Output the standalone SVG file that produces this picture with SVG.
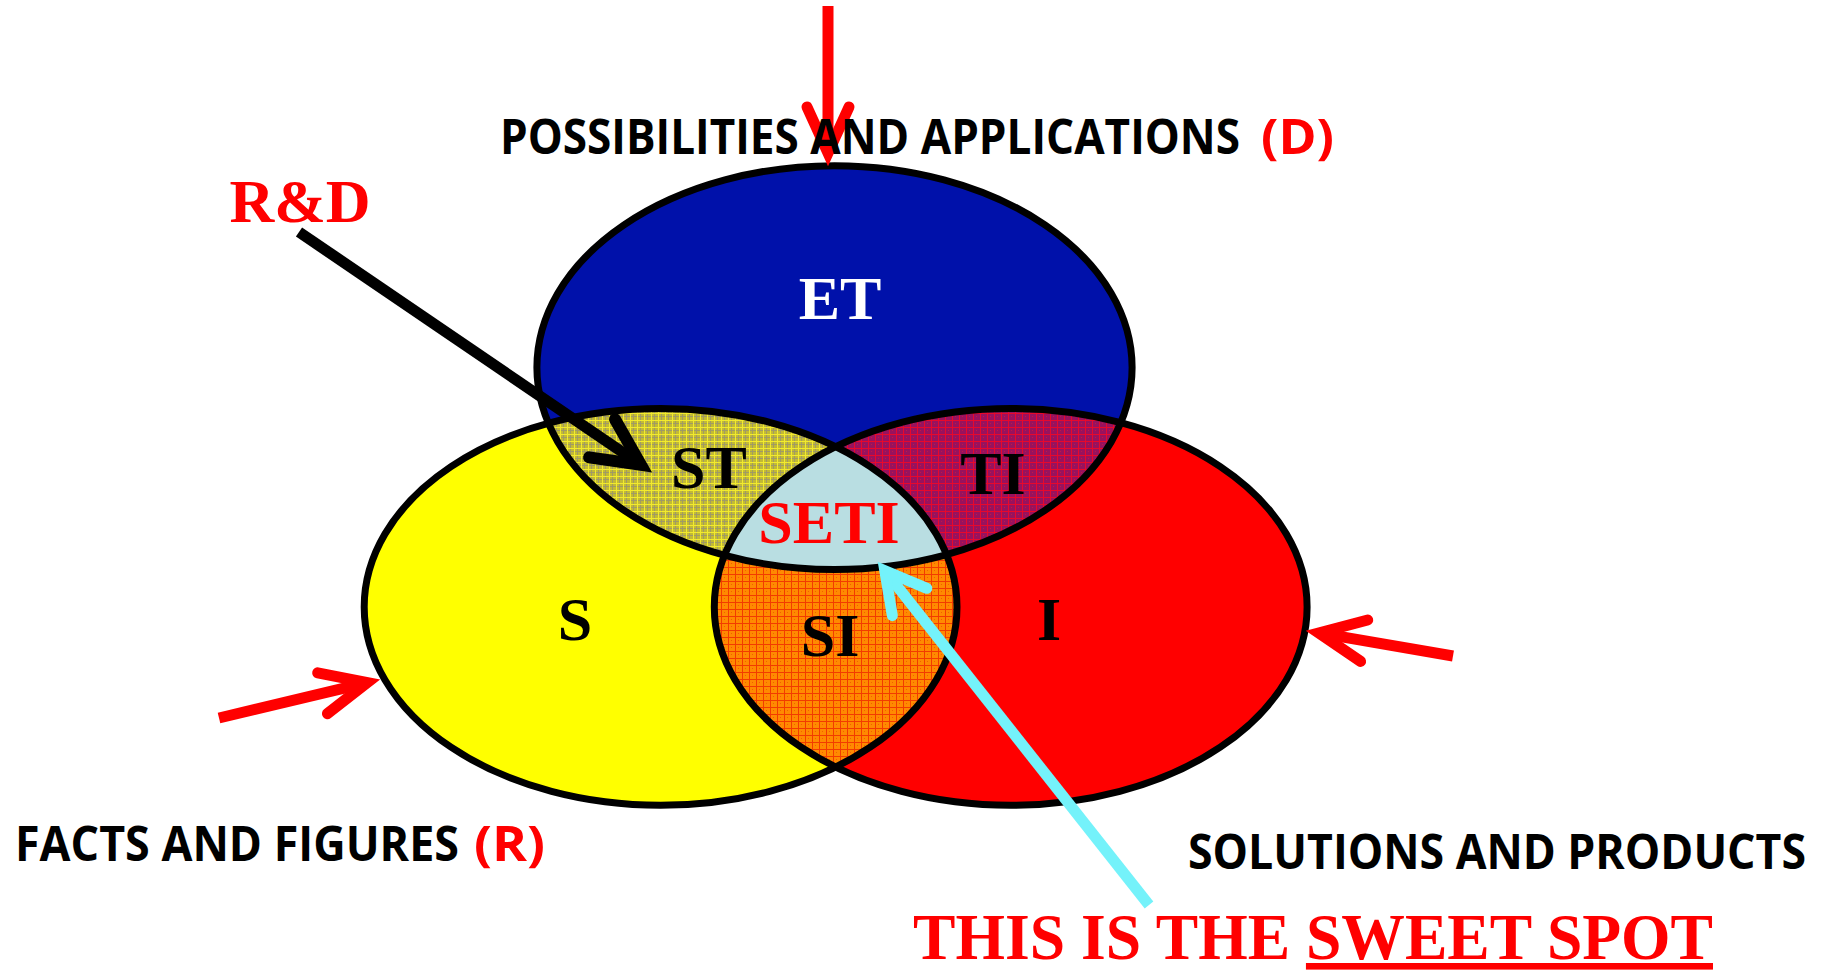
<svg xmlns="http://www.w3.org/2000/svg" width="1830" height="971" viewBox="0 0 1830 971">
<style>
.outline{fill:none;stroke:#000;stroke-width:7}
.lbl{font-family:"Liberation Serif","Times New Roman",serif;font-weight:bold;font-size:62px;text-anchor:middle}
.cap{font-family:"Open Sans","Liberation Sans",sans-serif;font-weight:bold;font-size:46px}
.red{fill:#FF0000}
.blk{fill:#000}
.conn{fill:none;stroke-width:11;stroke-linecap:butt}
.sweet{font-family:"Liberation Serif","Times New Roman",serif;font-weight:bold;font-size:66px;fill:#FF0000}
</style>
<defs>
<clipPath id="clipY"><ellipse cx="660.6" cy="606.9" rx="296.4" ry="198.4"/></clipPath>
<clipPath id="clipR"><ellipse cx="1010.7" cy="606.9" rx="296.4" ry="198.4"/></clipPath>
<pattern id="pST" width="7" height="7" patternUnits="userSpaceOnUse">
<rect width="7" height="7" fill="#C2BA34"/>
<rect x="3" y="0" width="1" height="7" fill="#A09A66"/>
<rect x="0" y="3" width="7" height="1" fill="#A09A66"/>
<rect x="0" y="0" width="7" height="1" fill="#F2EA2E"/>
<rect x="0" y="0" width="1" height="7" fill="#F2EA2E"/>
</pattern>
<pattern id="pTI" width="7" height="7" patternUnits="userSpaceOnUse">
<rect width="7" height="7" fill="#98125E"/>
<rect x="3" y="3" width="1" height="1" fill="#C01848"/>
<rect x="0" y="0" width="7" height="1" fill="#E8082C"/>
<rect x="0" y="0" width="1" height="7" fill="#E8082C"/>
</pattern>
<pattern id="pSI" width="7" height="7" patternUnits="userSpaceOnUse">
<rect width="7" height="7" fill="#FF8A00"/>
<rect x="3" y="3" width="1" height="1" fill="#F26000"/>
<rect x="0" y="0" width="7" height="1" fill="#F23C00"/>
<rect x="0" y="0" width="1" height="7" fill="#F23C00"/>
</pattern>
<marker id="headRed" viewBox="-60 -34 78 68" markerWidth="78" markerHeight="68" refX="0" refY="0" orient="auto" markerUnits="userSpaceOnUse">
<path d="M-46,-21 L0,0 L-46,21" fill="none" stroke="#FF0000" stroke-width="11" stroke-linecap="round" stroke-linejoin="miter"/>
</marker>
<marker id="headBlack" viewBox="-60 -34 78 68" markerWidth="78" markerHeight="68" refX="0" refY="0" orient="auto" markerUnits="userSpaceOnUse">
<path d="M-47,-23 L0,0 L-47,23" fill="none" stroke="#000" stroke-width="12" stroke-linecap="round" stroke-linejoin="miter"/>
</marker>
<marker id="headCyan" viewBox="-60 -34 78 68" markerWidth="78" markerHeight="68" refX="0" refY="0" orient="auto" markerUnits="userSpaceOnUse">
<path d="M-40,-22 L0,0 L-40,22" fill="none" stroke="#74F2FA" stroke-width="11" stroke-linecap="round" stroke-linejoin="miter"/>
</marker>
</defs>
<rect width="1830" height="971" fill="#FFFFFF"/>

<g id="node-ET">
<ellipse cx="834.5" cy="367.6" rx="297.6" ry="201.9" fill="#0011AA"/>
</g>
<g id="node-S">
<ellipse cx="660.6" cy="606.9" rx="296.4" ry="198.4" fill="#FFFF00"/>
</g>
<g id="node-I">
<ellipse cx="1010.7" cy="606.9" rx="296.4" ry="198.4" fill="#FF0000"/>
</g>
<g id="node-ST">
<ellipse cx="834.5" cy="367.6" rx="297.6" ry="201.9" fill="url(#pST)" clip-path="url(#clipY)"/>
</g>
<g id="node-TI">
<ellipse cx="834.5" cy="367.6" rx="297.6" ry="201.9" fill="url(#pTI)" clip-path="url(#clipR)"/>
</g>
<g id="node-SI">
<ellipse cx="660.6" cy="606.9" rx="296.4" ry="198.4" fill="url(#pSI)" clip-path="url(#clipR)"/>
</g>
<g id="node-SETI">
<g clip-path="url(#clipY)">
<ellipse cx="834.5" cy="367.6" rx="297.6" ry="201.9" fill="#B9DEE2" clip-path="url(#clipR)"/>
</g>
</g>
<g id="outlines">
<ellipse class="outline" cx="834.5" cy="367.6" rx="297.6" ry="201.9"/>
<ellipse class="outline" cx="660.6" cy="606.9" rx="296.4" ry="198.4"/>
<ellipse class="outline" cx="1010.7" cy="606.9" rx="296.4" ry="198.4"/>
</g>

<g id="labels">
<text class="lbl" x="840" y="319" fill="#FFFFFF">ET</text>
<text class="lbl blk" x="709" y="488">ST</text>
<text class="lbl blk" x="993" y="494">TI</text>
<text class="lbl red" x="829" y="543">SETI</text>
<text class="lbl blk" x="575" y="640">S</text>
<text class="lbl blk" x="830" y="656">SI</text>
<text class="lbl blk" x="1049" y="640">I</text>
</g>

<g id="connectors">
<line class="conn" x1="828" y1="6" x2="828" y2="153" stroke="#FF0000" marker-end="url(#headRed)"/>
<line class="conn" x1="219" y1="718" x2="367.3" y2="682.6" stroke="#FF0000" marker-end="url(#headRed)"/>
<line class="conn" x1="1453" y1="656" x2="1318.8" y2="632.9" stroke="#FF0000" marker-end="url(#headRed)"/>
<line class="conn" x1="299" y1="232" x2="640.9" y2="464.8" stroke="#000" stroke-width="12" marker-end="url(#headBlack)"/>
<line class="conn" x1="1149" y1="905" x2="884.8" y2="570.6" stroke="#74F2FA" marker-end="url(#headCyan)"/>
</g>

<g id="label-D" transform="matrix(1,0,0,1.07,0,-10.78)">
<text class="cap blk" x="500" y="154" textLength="740" lengthAdjust="spacingAndGlyphs">POSSIBILITIES AND APPLICATIONS</text>
<text class="cap red" x="1261" y="154" textLength="73" lengthAdjust="spacingAndGlyphs">(D)</text>
</g>
<g id="label-R" transform="matrix(1,0,0,1.07,0,-60.27)">
<text class="cap blk" x="15" y="861" textLength="444" lengthAdjust="spacingAndGlyphs">FACTS AND FIGURES</text>
<text class="cap red" x="474" y="861" textLength="71" lengthAdjust="spacingAndGlyphs">(R)</text>
</g>
<g id="label-P" transform="matrix(1,0,0,1.07,0,-60.83)">
<text class="cap blk" x="1188" y="869" textLength="618" lengthAdjust="spacingAndGlyphs">SOLUTIONS AND PRODUCTS</text>
</g>
<g id="label-RD">
<text class="lbl red" x="300" y="222">R&amp;D</text>
</g>
<g id="label-sweet">
<text class="sweet" x="913" y="959" textLength="800" lengthAdjust="spacingAndGlyphs">THIS IS THE <tspan text-decoration="underline">SWEET SPOT</tspan></text>
</g>
</svg>
